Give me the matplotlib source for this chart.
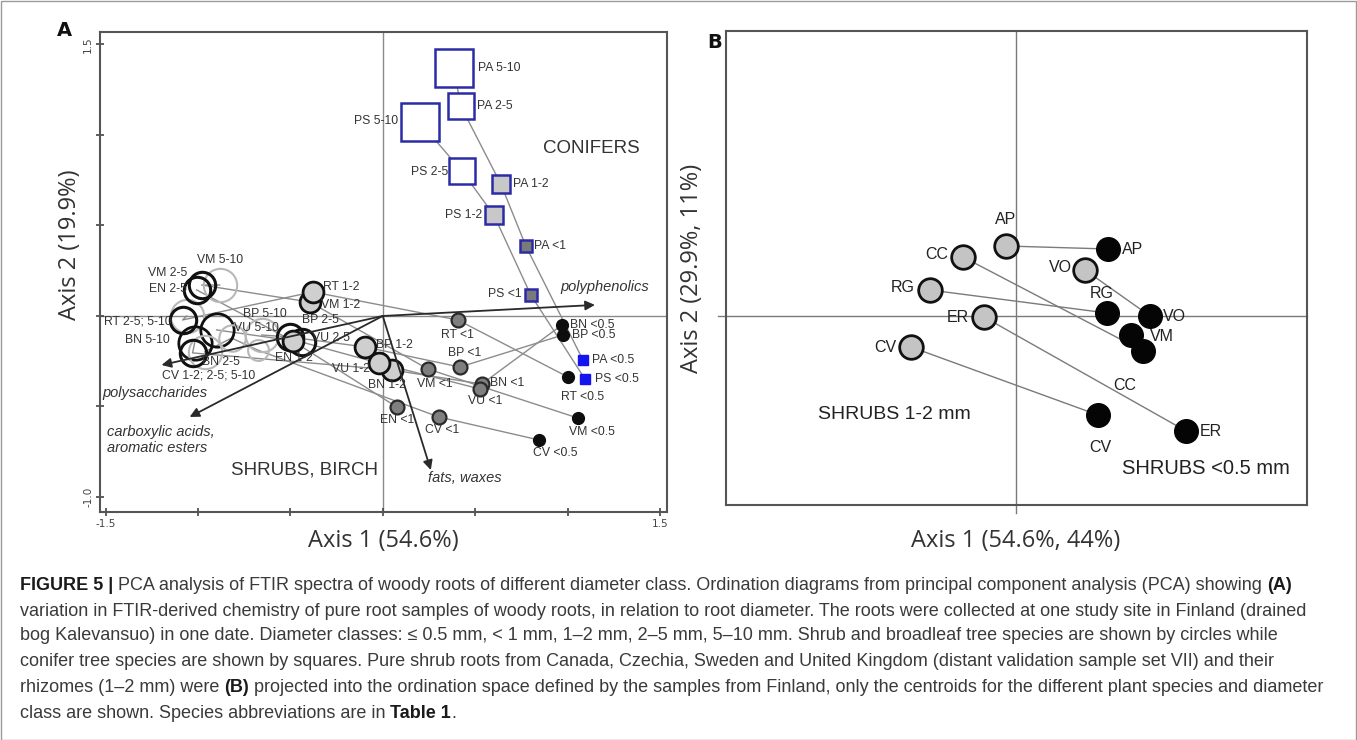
import matplotlib
matplotlib.use("Agg")
import matplotlib.pyplot as plt
from matplotlib import font_manager
from matplotlib.patches import Rectangle

# ---------------- Panel A data (PCA scores, Finland samples) ----------------
a_species = ["PA", "PA", "PA", "PA", "PA",
             "PS", "PS", "PS", "PS", "PS",
             "VM", "VM", "VM", "VM", "VM",
             "EN", "EN", "EN",
             "RT", "RT", "RT", "RT", "RT",
             "BN", "BN", "BN", "BN", "BN",
             "BP", "BP", "BP", "BP", "BP",
             "VU", "VU", "VU", "VU",
             "CV", "CV", "CV", "CV", "CV"]
a_class = ["5-10", "2-5", "1-2", "<1", "<0.5",
           "5-10", "2-5", "1-2", "<1", "<0.5",
           "5-10", "2-5", "1-2", "<1", "<0.5",
           "2-5", "1-2", "<1",
           "5-10", "2-5", "1-2", "<1", "<0.5",
           "5-10", "2-5", "1-2", "<1", "<0.5",
           "5-10", "2-5", "1-2", "<1", "<0.5",
           "5-10", "2-5", "1-2", "<1",
           "5-10", "2-5", "1-2", "<1", "<0.5"]
a_axis1 = [0.384, 0.422, 0.639, 0.774, 1.083,
           0.200, 0.428, 0.601, 0.801, 1.094,
           -0.882, -0.980, -0.395, 0.244, 1.056,
           -1.007, -0.487, 0.076,
           -1.061, -1.083, -0.379, 0.406, 1.002,
           -1.018, -1.029, 0.049, 0.536, 0.969,
           -0.655, -0.504, -0.097, 0.417, 0.975,
           -0.899, -0.439, -0.022, 0.525,
           -0.964, -0.818, -0.677, 0.303, 0.845]
a_axis2 = [1.370, 1.160, 0.729, 0.387, -0.243,
           1.072, 0.801, 0.558, 0.116, -0.348,
           0.171, 0.171, 0.077, -0.293, -0.564,
           0.144, -0.138, -0.503,
           0.000, -0.022, 0.133, -0.022, -0.337,
           -0.149, -0.204, -0.298, -0.376, -0.050,
           -0.105, -0.116, -0.171, -0.282, -0.105,
           -0.077, -0.144, -0.260, -0.403,
           -0.199, -0.122, -0.188, -0.558, -0.685]
a_labels = ["PA 5-10", "PA 2-5", "PA 1-2", "PA <1", "PA <0.5",
            "PS 5-10", "PS 2-5", "PS 1-2", "PS <1", "PS <0.5",
            "VM 5-10", "VM 2-5", "VM 1-2", "VM <1", "VM <0.5",
            "EN 2-5", "EN 1-2", "EN <1",
            "", "RT 2-5; 5-10", "RT 1-2", "RT <1", "RT <0.5",
            "BN 5-10", "BN 2-5", "BN 1-2", "BN <1", "BN <0.5",
            "BP 5-10", "BP 2-5", "BP 1-2", "BP <1", "BP <0.5",
            "VU 5-10", "VU 2-5", "VU 1-2", "VU <1",
            "CV 1-2; 2-5; 5-10", "", "", "CV <1", "CV <0.5"]
conifers = ["PA", "PS"]
class_order = ["5-10", "2-5", "1-2", "<1", "<0.5"]

# loading vectors (biplot arrows)
vec_names = ["polyphenolics", "polysaccharides", "carboxylic acids,\naromatic esters", "fats, waxes"]
vec_axis1 = [1.148, -1.197, -1.045, 0.260]
vec_axis2 = [0.061, -0.271, -0.558, -0.851]

# ---------------- Panel B data (projected centroids) ----------------
b_rhiz_species = ["AP", "CC", "RG", "ER", "CV", "VO"]
b_rhiz_axis1 = [-0.10, -0.53, -0.86, -0.32, -1.05, 0.69]
b_rhiz_axis2 = [0.70, 0.59, 0.26, -0.01, -0.31, 0.46]
b_fine_species = ["AP", "RG", "VO", "VM", "CC", "CV", "ER"]
b_fine_axis1 = [0.92, 0.91, 1.34, 1.15, 1.27, 0.82, 1.70]
b_fine_axis2 = [0.67, 0.03, 0.00, -0.19, -0.35, -0.99, -1.15]

# ---------------- styling ----------------
W, H = 1357, 740
names = {f.name for f in font_manager.fontManager.ttflist}
LAB = "Liberation Sans"
TITLE = "Open Sans" if "Open Sans" in names else "DejaVu Sans"
CAP = "Liberation Sans Narrow" if "Liberation Sans Narrow" in names else "Liberation Sans"

fig = plt.figure(figsize=(W / 100, H / 100), dpi=100)
fig.patch.set_facecolor("white")


def fx(px):
    return px / W


def fy(py):
    return 1 - py / H


axA = fig.add_axes([fx(100), fy(512), fx(667) - fx(100), fy(32) - fy(512)])
axB = fig.add_axes([fx(726), fy(505), fx(1307) - fx(726), fy(31) - fy(505)])

for ax in (axA, axB):
    for s in ax.spines.values():
        s.set_color("#555555")
        s.set_linewidth(1.5)

# ---- Panel A ----
axA.set_xlim(-1.53, 1.538)
axA.set_ylim(-1.083, 1.569)
axA.axhline(0, color="#8a8a8a", lw=1.0, zorder=0)
axA.axvline(0, color="#8a8a8a", lw=1.0, zorder=0)
axA.set_xticks([-1.5, -1.0, -0.5, 0, 0.5, 1.0, 1.5])
axA.set_xticklabels(["-1.5", "", "", "", "", "", "1.5"])
axA.set_yticks([-1.0, -0.5, 0, 0.5, 1.0, 1.5])
axA.set_yticklabels(["-1.0", "", "", "", "", "1.5"], rotation=90, va="center")
axA.tick_params(direction="inout", length=6, width=1.2, color="#444444",
                labelsize=7.5, labelcolor="#444444", pad=2)

faded = {("VM", "5-10"), ("RT", "5-10"), ("BP", "5-10"), ("CV", "5-10"),
         ("CV", "2-5"), ("CV", "1-2")}
circ_style = {
    "5-10": dict(ms=24, mfc="none", mec="#111111", mew=2.0, z=4),
    "2-5": dict(ms=19, mfc="none", mec="#111111", mew=2.2, z=5),
    "1-2": dict(ms=15, mfc="#cfcfcf", mec="#111111", mew=2.0, z=6),
    "<1": dict(ms=10, mfc="#7f7f7f", mec="#2a2a2a", mew=1.6, z=7),
    "<0.5": dict(ms=8.5, mfc="#0d0d0d", mec="#0d0d0d", mew=1.0, z=8),
}
sq_style = {
    "5-10": dict(ms=27, mfc="white", mec="#2b2ba6", mew=1.8, z=4),
    "2-5": dict(ms=18.5, mfc="white", mec="#2b2ba6", mew=1.8, z=5),
    "1-2": dict(ms=13.5, mfc="#c8c8c8", mec="#2b2ba6", mew=1.8, z=6),
    "<1": dict(ms=9, mfc="#7a7a7a", mec="#2b2ba6", mew=1.8, z=7),
    "<0.5": dict(ms=7.5, mfc="#1414ee", mec="#1414ee", mew=1.0, z=8),
}

# connecting lines per species
species_order = []
for s in a_species:
    if s not in species_order:
        species_order.append(s)
for sp in species_order:
    idx = [i for i, s in enumerate(a_species) if s == sp]
    idx.sort(key=lambda i: class_order.index(a_class[i]))
    xs = [a_axis1[i] for i in idx]
    ys = [a_axis2[i] for i in idx]
    axA.plot(xs, ys, color="#8c8c8c", lw=1.0, zorder=1)

# markers
for i, sp in enumerate(a_species):
    c = a_class[i]
    if sp in conifers:
        st = sq_style[c]
        mk = "s"
        mec, mfc, mew = st["mec"], st["mfc"], st["mew"]
    else:
        st = circ_style[c]
        mk = "o"
        mec, mfc, mew = st["mec"], st["mfc"], st["mew"]
        if (sp, c) in faded:
            mec, mfc, mew = "#b8b8b8", "none", 1.5
    axA.plot([a_axis1[i]], [a_axis2[i]], marker=mk, ms=st["ms"], mfc=mfc, mec=mec,
             mew=mew, ls="none", zorder=st["z"])

# point labels (offsets in pixels)
label_pos = {
    "PA 5-10": (24, 0, "left"), "PA 2-5": (16, 0, "left"), "PA 1-2": (12, 0, "left"),
    "PA <1": (8, 0, "left"), "PA <0.5": (9, 0, "left"),
    "PS 5-10": (-22, 1, "right"), "PS 2-5": (-14, -1, "right"), "PS 1-2": (-12, 0, "right"),
    "PS <1": (-9, 1, "right"), "PS <0.5": (10, 0, "left"),
    "VM 5-10": (0, 25, "center"), "VM 2-5": (-14, 12, "right"), "VM 1-2": (11, -3, "left"),
    "VM <1": (7, -15, "center"), "VM <0.5": (14, -14, "center"),
    "EN 2-5": (-10, 1, "right"), "EN 1-2": (-18, -17, "left"), "EN <1": (0, -13, "center"),
    "RT 2-5; 5-10": (-11, -2, "right"), "RT 1-2": (10, 5, "left"), "RT <1": (0, -15, "center"),
    "RT <0.5": (15, -20, "center"),
    "BN 5-10": (-25, 3, "right"), "BN 2-5": (9, -9, "left"), "BN 1-2": (-5, -15, "center"),
    "BN <1": (8, 1, "left"), "BN <0.5": (8, 0, "left"),
    "BP 5-10": (-19, 21, "left"), "BP 2-5": (12, 17, "left"), "BP 1-2": (11, 2, "left"),
    "BP <1": (5, 14, "center"), "BP <0.5": (9, 0, "left"),
    "VU 5-10": (17, 2, "left"), "VU 2-5": (10, 4, "left"), "VU 1-2": (-9, -6, "right"),
    "VU <1": (5, -12, "center"),
    "CV 1-2; 2-5; 5-10": (-43, -23, "left"), "CV <1": (3, -13, "center"),
    "CV <0.5": (16, -13, "center"),
}
for i, lab in enumerate(a_labels):
    if not lab:
        continue
    dx, dy, ha = label_pos[lab]
    axA.annotate(lab, (a_axis1[i], a_axis2[i]), xytext=(dx, dy), textcoords="offset pixels",
                 ha=ha, va="center", fontsize=8.8, family=LAB, color="#333333", zorder=10)

# arrows
for nm, vx, vy in zip(vec_names, vec_axis1, vec_axis2):
    axA.annotate("", xy=(vx, vy), xytext=(0, 0),
                 arrowprops=dict(arrowstyle="-|>", color="#2a2a2a", lw=1.3,
                                 mutation_scale=14, shrinkA=0, shrinkB=0), zorder=9)
vec_text_pos = {
    "polyphenolics": (0.960, 0.160, "left", "center"),
    "polysaccharides": (-1.516, -0.425, "left", "center"),
    "carboxylic acids,\naromatic esters": (-1.494, -0.685, "left", "center"),
    "fats, waxes": (0.245, -0.855, "left", "top"),
}
for nm in vec_names:
    x, y, ha, va = vec_text_pos[nm]
    axA.text(x, y, nm, ha=ha, va=va, fontsize=10.5, family=LAB, style="italic",
             color="#333333", linespacing=1.15)

axA.text(0.866, 0.928, "CONIFERS", fontsize=13.5, family=LAB, color="#333333", va="center")
axA.text(-0.823, -0.851, "SHRUBS, BIRCH", fontsize=13.5, family=LAB, color="#333333", va="center")

# ---- Panel B ----
axB.set_xlim(-2.90, 2.91)
axB.set_ylim(-1.89, 2.85)
axB.set_xticks([])
axB.set_yticks([])
axB.plot([-2.98, 2.91], [0, 0], color="#7a7a7a", lw=1.0, zorder=0, clip_on=False)
axB.plot([0, 0], [-1.97, 2.85], color="#7a7a7a", lw=1.0, zorder=0, clip_on=False)

rhiz = dict(zip(b_rhiz_species, zip(b_rhiz_axis1, b_rhiz_axis2)))
fine = dict(zip(b_fine_species, zip(b_fine_axis1, b_fine_axis2)))
for sp in b_rhiz_species:
    if sp in fine:
        axB.plot([rhiz[sp][0], fine[sp][0]], [rhiz[sp][1], fine[sp][1]],
                 color="#7a7a7a", lw=1.0, zorder=1)
axB.plot(b_rhiz_axis1, b_rhiz_axis2, "o", ms=17, mfc="#c4c4c4", mec="#111111", mew=2.0,
         ls="none", zorder=3)
axB.plot(b_fine_axis1, b_fine_axis2, "o", ms=17, mfc="#050505", mec="#050505", mew=1.0,
         ls="none", zorder=3)

b_rhiz_lab = {"AP": (0, 27, "center"), "CC": (-15, 3, "right"), "RG": (-15, 3, "right"),
              "ER": (-15, 0, "right"), "CV": (-15, 0, "right"), "VO": (-13, 3, "right")}
b_fine_lab = {"AP": (14, 0, "left"), "RG": (-5, 20, "center"), "VO": (13, 0, "left"),
              "VM": (19, -1, "left"), "CC": (-18, -34, "center"), "CV": (2, -32, "center"),
              "ER": (14, 0, "left")}
for sp, x, y in zip(b_rhiz_species, b_rhiz_axis1, b_rhiz_axis2):
    dx, dy, ha = b_rhiz_lab[sp]
    axB.annotate(sp, (x, y), xytext=(dx, dy), textcoords="offset pixels", ha=ha, va="center",
                 fontsize=11.5, family=LAB, color="#222222")
for sp, x, y in zip(b_fine_species, b_fine_axis1, b_fine_axis2):
    dx, dy, ha = b_fine_lab[sp]
    axB.annotate(sp, (x, y), xytext=(dx, dy), textcoords="offset pixels", ha=ha, va="center",
                 fontsize=11.5, family=LAB, color="#222222")
axB.text(-1.98, -0.98, "SHRUBS 1-2 mm", fontsize=14, family=LAB, color="#222222", va="center")
axB.text(1.06, -1.53, "SHRUBS <0.5 mm", fontsize=14.5, family=LAB, color="#222222", va="center")

# axis titles & panel letters
fig.text(fx(383), fy(541), "Axis 1 (54.6%)", ha="center", va="center", fontsize=17,
         family=TITLE, color="#333333")
fig.text(fx(70), fy(245), "Axis 2 (19.9%)", ha="center", va="center", rotation=90,
         fontsize=17, family=TITLE, color="#333333")
fig.text(fx(1016), fy(541), "Axis 1 (54.6%, 44%)", ha="center", va="center", fontsize=17,
         family=TITLE, color="#333333")
fig.text(fx(692), fy(268), "Axis 2 (29.9%, 11%)", ha="center", va="center", rotation=90,
         fontsize=17, family=TITLE, color="#333333")
fig.text(fx(64), fy(30), "A", ha="center", va="center", fontsize=14, fontweight="bold",
         family="DejaVu Sans", color="#111111")
fig.text(fx(715), fy(42), "B", ha="center", va="center", fontsize=14, fontweight="bold",
         family="DejaVu Sans", color="#111111")

# outer border
fig.patches.append(Rectangle((0.5 / W, 0.5 / H), 1 - 1.5 / W, 1 - 1.5 / H, transform=fig.transFigure,
                             fill=False, edgecolor="#9a9a9a", lw=1.0))

# ---- caption ----
caption = [
    [("FIGURE 5 |", True), (" PCA analysis of FTIR spectra of woody roots of different diameter class. "
                            "Ordination diagrams from principal component analysis (PCA) showing ", False),
     ("(A)", True)],
    [("variation in FTIR-derived chemistry of pure root samples of woody roots, in relation to root "
      "diameter. The roots were collected at one study site in Finland (drained", False)],
    [("bog Kalevansuo) in one date. Diameter classes: \u2264 0.5 mm, < 1 mm, 1\u20132 mm, 2\u20135 mm, "
      "5\u201310 mm. Shrub and broadleaf tree species are shown by circles while", False)],
    [("conifer tree species are shown by squares. Pure shrub roots from Canada, Czechia, Sweden and "
      "United Kingdom (distant validation sample set VII) and their", False)],
    [("rhizomes (1\u20132 mm) were ", False), ("(B)", True),
     (" projected into the ordination space defined by the samples from Finland, only the centroids "
      "for the different plant species and diameter", False)],
    [("class are shown. Species abbreviations are in ", False), ("Table 1", True), (".", False)],
]

fig.canvas.draw()
renderer = fig.canvas.get_renderer()


def advance(txt, size, bold):
    t1 = fig.text(0, 0, txt + "|", fontsize=size, family=CAP,
                  fontweight="bold" if bold else "normal")
    t2 = fig.text(0, 0, "|", fontsize=size, family=CAP,
                  fontweight="bold" if bold else "normal")
    w = t1.get_window_extent(renderer).width - t2.get_window_extent(renderer).width
    t1.remove()
    t2.remove()
    return w


base = 10.0
widest = max(sum(advance(t, base, b) for t, b in line) for line in caption)
cap_size = base * (1312.0 / widest)
line_y = [585, 611, 636, 662, 688, 713]
for li, segs in enumerate(caption):
    x = 20.0
    for txt, bold in segs:
        fig.text(fx(x), fy(line_y[li]), txt, fontsize=cap_size, family=CAP,
                 fontweight="bold" if bold else "normal",
                 color="#1a1a1a" if bold else "#3a3a3a", va="center", ha="left")
        x += advance(txt, cap_size, bold)

fig.savefig("out.png", dpi=100, facecolor="white")
